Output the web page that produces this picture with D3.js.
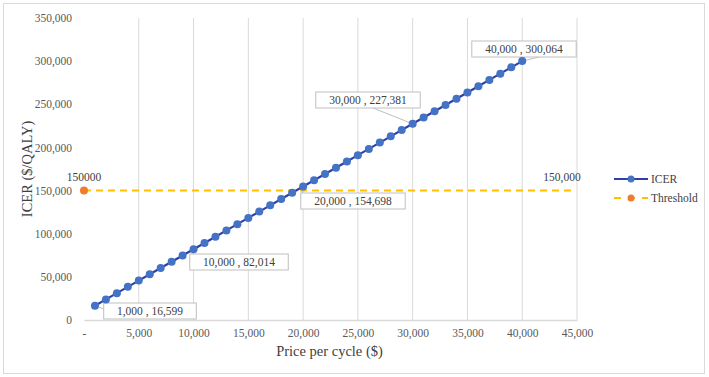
<!DOCTYPE html>
<html><head><meta charset="utf-8">
<script src="https://cdn.jsdelivr.net/npm/d3@7/dist/d3.min.js"></script>
<style>body{margin:0;background:#fff}svg{display:block}</style>
</head><body><svg id="c" width="709" height="377" font-family="'Liberation Serif', 'Times New Roman', serif"></svg>
<script>
const prices = [1000,2000,3000,4000,5000,6000,7000,8000,9000,10000,11000,12000,13000,14000,15000,16000,17000,18000,19000,20000,21000,22000,23000,24000,25000,26000,27000,28000,29000,30000,31000,32000,33000,34000,35000,36000,37000,38000,39000,40000];
const icer = [16599,23867,31136,38404,45672,52941,60209,67477,74746,82014,89282,96551,103819,111087,118356,125624,132892,140161,147429,154698,161966,169234,176503,183771,191039,198308,205576,212844,220113,227381,234649,241918,249186,256454,263723,270991,278259,285528,292796,300064];
const thresholdX = [0,45000];
const thresholdY = [150000,150000];
const xTicks = [0,5000,10000,15000,20000,25000,30000,35000,40000,45000];
const yTicks = [0,50000,100000,150000,200000,250000,300000,350000];
const labelled = [1000,10000,20000,30000,40000];
const labelBoxes = [[150,311],[239,262],[353,201],[368,100],[524,49]]; // box centres (px)
const seriesNames = ["ICER","Threshold"];
const FONT = "'Liberation Serif', 'Times New Roman', serif";

const svg = d3.select("#c");
svg.append("rect").attr("x",3.5).attr("y",3.5).attr("width",701).attr("height",370).attr("fill","#fff").attr("stroke","#d9d9d9");

const x = d3.scaleLinear().domain([0,45000]).range([84,577]);
const y = d3.scaleLinear().domain([0,350000]).range([320,18]);
const fmt = d3.format(",");

// vertical gridlines
svg.append("g").selectAll("line").data(xTicks.slice(1)).join("line")
  .attr("x1",d=>x(d)).attr("x2",d=>x(d)).attr("y1",y(350000)).attr("y2",y(0))
  .attr("stroke","#d9d9d9").attr("stroke-width",1);

// x axis
const xa = svg.append("g").attr("transform",`translate(0,${y(0)})`)
  .call(d3.axisBottom(x).tickValues(xTicks).tickSize(0).tickPadding(9).tickFormat(d=>d===0?"-":fmt(d)))
  .attr("font-family",FONT);
xa.select(".domain").attr("stroke","#d9d9d9").attr("stroke-width",1.5);
xa.selectAll("text").attr("fill","#595959").attr("font-size",11.5);

// y axis
const ya = svg.append("g").attr("transform",`translate(${x(0)},0)`)
  .call(d3.axisLeft(y).tickValues(yTicks).tickSize(0).tickPadding(12).tickFormat(d=>fmt(d)))
  .attr("font-family",FONT);
ya.select(".domain").remove();
ya.selectAll("text").attr("fill","#595959").attr("font-size",11.5);

// axis titles
svg.append("text").attr("transform","translate(32,169) rotate(-90)").attr("text-anchor","middle")
  .attr("font-size",14.5).attr("fill","#404040").text("ICER ($/QALY)");
svg.append("text").attr("x",x(22500)-1).attr("y",356).attr("text-anchor","middle")
  .attr("font-size",14.5).attr("fill","#404040").text("Price per cycle ($)");

// threshold
svg.append("line").attr("x1",x(thresholdX[0])).attr("x2",x(thresholdX[1])-4)
  .attr("y1",y(thresholdY[0])).attr("y2",y(thresholdY[1]))
  .attr("stroke","#FFC000").attr("stroke-width",2).attr("stroke-dasharray","7,5");
svg.append("circle").attr("cx",x(thresholdX[0])).attr("cy",y(thresholdY[0])).attr("r",4).attr("fill","#ED7D31");
svg.append("text").attr("x",x(thresholdX[0])).attr("y",y(thresholdY[0])-10).attr("text-anchor","middle")
  .attr("font-size",11.5).attr("fill","#404040").text("150000");
svg.append("text").attr("x",x(thresholdX[1])-15).attr("y",y(thresholdY[1])-10).attr("text-anchor","middle")
  .attr("font-size",11.5).attr("fill","#404040").text(fmt(thresholdY[1]));

// ICER line
const pts = prices.map((p,i)=>[p,icer[i]]);
svg.append("path").datum(pts).attr("fill","none").attr("stroke","#2E40A8").attr("stroke-width",2.2)
  .attr("d",d3.line().x(d=>x(d[0])).y(d=>y(d[1])));

// leader lines and data labels
const lab = svg.append("g");
labelled.forEach((p,i)=>{
  const v = icer[prices.indexOf(p)];
  const [cx,cy] = labelBoxes[i];
  const t = `${fmt(p)} , ${fmt(v)}`;
  const w = t.length*5.9+10, h = 16;
  let ex, ey;
  if (i===3) { ex = cx+5; ey = cy+h/2; }
  else if (i===4) { ex = cx+15; ey = cy+h/2; }
  else { ex = cx-w/2; ey = cy-2; }
  lab.append("path").attr("d",`M${x(p)},${y(v)}L${ex},${ey}` + (i<3?`L${ex+4},${ey}`:""))
    .attr("fill","none").attr("stroke","#bfbfbf").attr("stroke-width",1);
  lab.append("rect").attr("x",cx-w/2).attr("y",cy-h/2).attr("width",w).attr("height",h)
    .attr("fill","#fff").attr("stroke","#bfbfbf");
  lab.append("text").attr("x",cx).attr("y",cy+4).attr("text-anchor","middle")
    .attr("font-size",11.5).attr("fill","#404040").text(t);
});

svg.append("g").selectAll("circle").data(pts).join("circle")
  .attr("cx",d=>x(d[0])).attr("cy",d=>y(d[1])).attr("r",4).attr("fill","#4472C4");

// legend
const lg = svg.append("g");
lg.append("line").attr("x1",614).attr("x2",648).attr("y1",179).attr("y2",179).attr("stroke","#2E40A8").attr("stroke-width",2.2);
lg.append("circle").attr("cx",631).attr("cy",179).attr("r",3.5).attr("fill","#4472C4");
lg.append("text").attr("x",651).attr("y",183).attr("font-size",11.5).attr("fill","#404040").text(seriesNames[0]);
lg.append("line").attr("x1",614).attr("x2",648).attr("y1",198).attr("y2",198).attr("stroke","#FFC000").attr("stroke-width",2).attr("stroke-dasharray","7,7");
lg.append("circle").attr("cx",631).attr("cy",198).attr("r",3.5).attr("fill","#ED7D31");
lg.append("text").attr("x",651).attr("y",202).attr("font-size",11.5).attr("fill","#404040").text(seriesNames[1]);
</script></body></html>
